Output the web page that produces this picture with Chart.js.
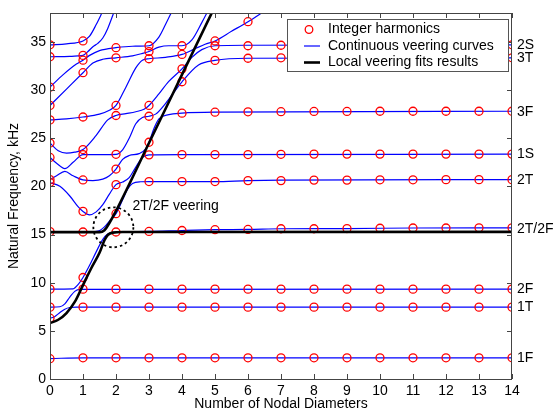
<!DOCTYPE html>
<html>
<head>
<meta charset="utf-8">
<script src="https://cdn.jsdelivr.net/npm/chart.js@4.4.1/dist/chart.umd.min.js"></script>
<style>
  html, body { margin: 0; padding: 0; background: #ffffff; }
  #wrap { width: 556px; height: 413px; }
</style>
</head>
<body>
<div id="wrap"><canvas id="chart" width="556" height="413"></canvas></div>
<script>
// Nodal diameters at which the integer harmonics were computed
const nodalDiameters = [0, 1, 2, 3, 4, 5, 6, 7, 8, 9, 10, 11, 12, 13, 14];

// Natural frequencies (kHz) of the integer harmonics, one list per nodal diameter
const harmonicFreqs = [
  [2.11, 6.31, 7.46, 9.33, 15.3, 20.4, 20.7, 23.0, 24.5, 26.9, 28.4, 30.3, 33.46, 34.7],
  [2.2, 7.46, 9.33, 10.54, 15.26, 17.4, 20.67, 23.3, 23.82, 27.2, 31.8, 33.1, 33.6, 35.1],
  [2.2, 7.46, 9.33, 15.26, 17.16, 20.18, 21.8, 23.33, 27.36, 28.4, 33.35, 34.4],
  [2.2, 7.46, 9.33, 15.32, 20.5, 23.27, 24.58, 27.28, 28.4, 33.25, 34.0, 34.6],
  [2.2, 7.46, 9.33, 15.42, 20.5, 23.3, 27.6, 30.86, 32.2, 33.7, 34.6],
  [2.2, 7.46, 9.33, 15.5, 20.5, 23.3, 27.7, 33.08, 34.6, 35.1],
  [2.2, 7.46, 9.33, 15.53, 20.6, 23.3, 27.74, 33.3, 34.6, 37.1],
  [2.2, 7.46, 9.33, 15.6, 20.6, 23.33, 27.75, 33.35, 34.65],
  [2.2, 7.46, 9.33, 15.6, 20.65, 23.35, 27.78, 33.35, 34.7],
  [2.2, 7.46, 9.33, 15.62, 20.65, 23.35, 27.78, 33.35, 34.7],
  [2.2, 7.46, 9.33, 15.65, 20.68, 23.35, 27.8, 33.35, 34.7],
  [2.2, 7.46, 9.33, 15.68, 20.68, 23.35, 27.8, 33.35, 34.7],
  [2.2, 7.46, 9.33, 15.68, 20.7, 23.35, 27.8, 33.35, 34.7],
  [2.2, 7.46, 9.33, 15.7, 20.7, 23.35, 27.8, 33.35, 34.7],
  [2.2, 7.46, 9.33, 15.7, 20.7, 23.35, 27.8, 33.35, 34.7]
];

// Continuous veering curves: [nodal diameter, kHz]
const curve1F   = [[0, 2.12], [1, 2.2], [14, 2.2]];
const curve1T   = [[0, 6.3], [0.15, 6.5], [0.3, 6.9], [0.45, 7.25], [0.6, 7.42], [0.8, 7.46], [14, 7.46]];
const curve2F   = [[0, 7.46], [0.3, 7.5], [0.45, 7.8], [0.6, 8.5], [0.75, 9.1], [0.9, 9.3], [14, 9.33]];
const curve2T2F = [[0, 9.33], [0.7, 9.36], [0.85, 9.8], [1, 10.54], [1.2, 11.8], [1.4, 13.2], [1.6, 14.5],
                   [1.75, 15.05], [1.9, 15.22], [2, 15.26], [3, 15.32], [4, 15.42], [5, 15.5], [6, 15.53],
                   [7, 15.6], [9, 15.62], [11, 15.68], [14, 15.7]];
const curve2T   = [[0, 15.3], [1, 15.26], [1.45, 15.35], [1.65, 15.8], [1.8, 16.4], [2, 17.16], [2.2, 18.6],
                   [2.35, 19.7], [2.5, 20.3], [2.75, 20.48], [3, 20.5], [5, 20.5], [6, 20.6], [7, 20.65], [14, 20.7]];
const curve1S   = [[0, 20.4], [0.3, 20.0], [0.6, 19.0], [0.85, 17.9], [1, 17.4], [1.2, 17.05], [1.4, 17.35],
                   [1.6, 18.1], [1.8, 19.2], [2, 20.18], [2.2, 20.45], [2.4, 20.9], [2.6, 22.0], [2.8, 23.0],
                   [3, 23.27], [4, 23.3], [14, 23.35]];
const curve3F   = [[0, 20.7], [0.2, 21.1], [0.45, 21.55], [0.7, 21.1], [1, 20.67], [1.3, 20.6], [1.6, 20.75],
                   [1.8, 21.1], [2, 21.8], [2.2, 22.8], [2.4, 23.2], [2.7, 23.4], [2.9, 23.9], [3, 24.58],
                   [3.15, 26.0], [3.3, 27.0], [3.6, 27.45], [4, 27.6], [5, 27.7], [14, 27.8]];
const curve3T   = [[0, 23.0], [0.2, 22.4], [0.45, 21.85], [0.7, 22.5], [1, 23.3], [1.5, 23.3], [2, 23.33],
                   [2.2, 23.8], [2.4, 25.0], [2.6, 26.5], [2.8, 27.15], [3, 27.28], [3.2, 27.5], [3.5, 28.6],
                   [4, 30.86], [4.5, 32.6], [5, 33.08], [6, 33.3], [14, 33.35]];
const curve2S   = [[0, 24.5], [0.25, 23.7], [0.5, 23.45], [0.75, 23.55], [1, 23.82], [1.4, 25.3], [1.75, 26.9],
                   [2, 27.36], [2.3, 27.55], [2.6, 27.75], [2.85, 28.0], [3, 28.4], [3.3, 29.6], [3.6, 30.9],
                   [4, 32.2], [4.3, 33.4], [4.6, 34.2], [5, 34.6], [6, 34.65], [14, 34.7]];
const curveD9   = [[0, 26.9], [0.5, 27.0], [1, 27.2], [1.5, 27.5], [1.8, 27.9], [2, 28.4], [2.3, 30.3],
                   [2.6, 32.3], [2.8, 33.1], [3, 33.25], [3.5, 33.4], [4, 33.7], [4.4, 34.3], [4.7, 34.75],
                   [5, 35.1], [5.5, 36.1], [6, 37.1], [6.5, 38.2]];
const curveD10  = [[0, 28.4], [0.5, 30.1], [1, 31.8], [1.3, 32.8], [1.6, 33.2], [2, 33.35], [2.5, 33.55],
                   [2.8, 33.8], [3, 34.0], [3.3, 34.45], [3.6, 34.6], [4, 34.6], [4.3, 35.2], [4.6, 37.0], [4.8, 38.3]];
const curveD11  = [[0, 30.3], [0.4, 31.6], [0.8, 32.7], [1, 33.1], [1.2, 33.6], [1.5, 34.1], [2, 34.4],
                   [2.5, 34.55], [3, 34.6], [3.3, 35.5], [3.5, 36.8], [3.7, 38.2]];
const curveD12  = [[0, 33.46], [0.6, 33.5], [0.85, 33.55], [1, 33.6], [1.15, 34.0], [1.3, 34.5], [1.45, 34.85],
                   [1.6, 35.4], [1.75, 36.4], [1.95, 38.2]];
const curveD13  = [[0, 34.7], [0.5, 34.8], [1, 35.1], [1.2, 35.6], [1.4, 36.8], [1.6, 38.2]];

// Local veering fit around the 2T/2F crossing
const fitLower = [[0, 5.8], [0.25, 6.15], [0.5, 6.85], [0.75, 8.0], [1, 9.75], [1.25, 11.5], [1.5, 13.1],
                  [1.65, 14.4], [1.75, 14.95], [1.9, 15.2], [2.2, 15.26], [14, 15.28]];
const fitUpper = [[0, 15.25], [1.5, 15.25], [1.65, 15.45], [1.8, 16.2], [2, 17.45], [3, 24.5], [4, 31.6], [5, 38.7]];

// Mode family labels along the right edge
const modeLabels = ['2S', '3T', '3F', '1S', '2T', '2T/2F', '2F', '1T', '1F'];
const modeLabelFreqs = [34.7, 33.35, 27.74, 23.37, 20.63, 15.6, 9.33, 7.46, 2.2];

// Axis ticks
const xTicks = nodalDiameters;
const yTicks = [0, 5, 10, 15, 20, 25, 30, 35];

const toXY = arr => arr.map(p => ({ x: p[0], y: p[1] }));

const blueCurves = [curve1F, curve1T, curve2F, curve2T2F, curve2T, curve1S, curve3F, curve3T, curve2S,
                    curveD9, curveD10, curveD11, curveD12, curveD13];

const harmonicPoints = [];
nodalDiameters.forEach((nd, i) => harmonicFreqs[i].forEach(f => harmonicPoints.push({ x: nd, y: f })));

const datasets = [];
blueCurves.forEach(c => datasets.push({
  type: 'line', data: toXY(c), borderColor: '#0000ff', borderWidth: 1.2,
  pointRadius: 0, cubicInterpolationMode: 'monotone', fill: false, order: 3
}));
datasets.push({
  type: 'scatter', data: harmonicPoints, showLine: false, pointStyle: 'circle', pointRadius: 4,
  borderColor: '#ff0000', backgroundColor: 'rgba(0,0,0,0)', pointBorderWidth: 1.3, order: 2
});
[fitLower, fitUpper].forEach(c => datasets.push({
  type: 'line', data: toXY(c), borderColor: '#000000', borderWidth: 2.6,
  pointRadius: 0, cubicInterpolationMode: 'monotone', fill: false, order: 1
}));

const FONT = 'Liberation Sans, Arial, Helvetica, sans-serif';
const FONT_SIZE = 14;

// Box, inward ticks, annotations, mode labels and legend
const decorations = {
  id: 'decorations',
  afterDatasetsDraw(chart) {
    const { ctx, chartArea: a, scales: { x, y } } = chart;
    ctx.save();
    // axes box
    ctx.strokeStyle = '#444444';
    ctx.lineWidth = 1;
    ctx.strokeRect(a.left + 0.5, a.top + 0.5, a.right - a.left - 1, a.bottom - a.top);
    // inward ticks
    const tl = 5;
    ctx.beginPath();
    xTicks.forEach(v => {
      const px = Math.round(x.getPixelForValue(v)) + 0.5;
      ctx.moveTo(px, a.bottom); ctx.lineTo(px, a.bottom - tl);
      ctx.moveTo(px, a.top); ctx.lineTo(px, a.top + tl);
    });
    yTicks.forEach(v => {
      const py = Math.round(y.getPixelForValue(v)) + 0.5;
      ctx.moveTo(a.left, py); ctx.lineTo(a.left + tl, py);
      ctx.moveTo(a.right, py); ctx.lineTo(a.right - tl, py);
    });
    ctx.stroke();

    // dotted circle round the 2T/2F veering
    ctx.strokeStyle = '#000000';
    ctx.lineWidth = 1.8;
    ctx.setLineDash([2.5, 3]);
    ctx.beginPath();
    ctx.arc(x.getPixelForValue(1.92), y.getPixelForValue(15.75), 20, 0, Math.PI * 2);
    ctx.stroke();
    ctx.setLineDash([]);

    ctx.fillStyle = '#000000';
    ctx.font = FONT_SIZE + 'px ' + FONT;
    ctx.textBaseline = 'middle';
    ctx.textAlign = 'left';
    ctx.fillText('2T/2F veering', x.getPixelForValue(2.5), y.getPixelForValue(17.9));

    // mode labels to the right of the axes
    modeLabels.forEach((t, i) => ctx.fillText(t, a.right + 5, y.getPixelForValue(modeLabelFreqs[i])));

    // legend
    const bw = 221, bh = 52;
    const bx = a.right - 4 - bw, by = a.top + 6;
    ctx.fillStyle = '#ffffff';
    ctx.fillRect(bx, by, bw, bh);
    ctx.strokeStyle = '#555555';
    ctx.lineWidth = 1;
    ctx.strokeRect(bx + 0.5, by + 0.5, bw, bh);
    const rows = [by + 10.5, by + 27, by + 43.5];
    ctx.strokeStyle = '#ff0000';
    ctx.lineWidth = 1.3;
    ctx.beginPath();
    ctx.arc(bx + 22, rows[0], 3.8, 0, Math.PI * 2);
    ctx.stroke();
    ctx.strokeStyle = '#0000ff';
    ctx.lineWidth = 1.2;
    ctx.beginPath();
    ctx.moveTo(bx + 17, rows[1]); ctx.lineTo(bx + 33, rows[1]);
    ctx.stroke();
    ctx.strokeStyle = '#000000';
    ctx.lineWidth = 2.6;
    ctx.beginPath();
    ctx.moveTo(bx + 17, rows[2]); ctx.lineTo(bx + 33, rows[2]);
    ctx.stroke();
    ctx.fillStyle = '#000000';
    ['Integer harmonics', 'Continuous veering curves', 'Local veering fits results']
      .forEach((t, i) => ctx.fillText(t, bx + 41, rows[i]));
    ctx.restore();
  }
};

new Chart(document.getElementById('chart'), {
  data: { datasets },
  options: {
    responsive: false,
    animation: false,
    devicePixelRatio: 1,
    layout: { padding: { top: 13, right: 44, left: 0, bottom: 0 } },
    plugins: { legend: { display: false }, tooltip: { enabled: false } },
    scales: {
      x: {
        type: 'linear', min: 0, max: 14,
        grid: { display: false, drawTicks: false },
        border: { display: false },
        ticks: { stepSize: 1, padding: 4, color: '#000000', font: { family: FONT, size: FONT_SIZE } },
        title: { display: true, text: 'Number of Nodal Diameters', color: '#000000',
                 font: { family: FONT, size: FONT_SIZE }, padding: { top: 0, bottom: 0 } },
        afterFit: s => { s.height = 34; }
      },
      y: {
        type: 'linear', min: 0, max: 38,
        grid: { display: false, drawTicks: false },
        border: { display: false },
        ticks: { stepSize: 5, includeBounds: false, padding: 4, color: '#000000',
                 font: { family: FONT, size: FONT_SIZE } },
        title: { display: true, text: 'Natural Frequency, kHz', color: '#000000',
                 font: { family: FONT, size: FONT_SIZE }, padding: { top: 6, bottom: 0 } },
        afterFit: s => { s.width = 50; }
      }
    }
  },
  plugins: [decorations]
});
</script>
</body>
</html>
